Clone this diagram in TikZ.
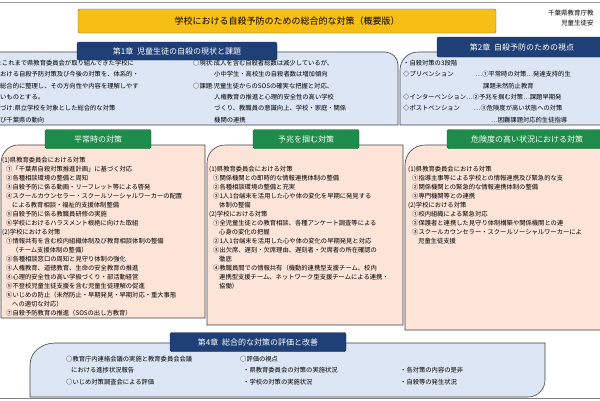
\documentclass[tikz,border=0pt]{standalone}
\usepackage{fontspec}
\setmainfont{Noto Sans CJK JP}
\definecolor{hblue}{HTML}{1F3F77}
\definecolor{lblue}{HTML}{DCE6F4}
\definecolor{pinkc}{HTML}{FCE4D8}
\definecolor{greenc}{HTML}{1E8C4A}
\definecolor{orangec}{HTML}{F7BE16}
\begin{document}
\begin{tikzpicture}[x=1pt,y=-1pt,
  bluehead/.style={fill=hblue,draw=hblue!70!black,text=white,font=\fontsize{8}{9}\selectfont,inner sep=0pt,rounded corners=1.5pt},
  greenhead/.style={fill=greenc,draw=greenc!70!black,text=white,font=\fontsize{8}{9}\selectfont,inner sep=0pt,rounded corners=1.5pt},
  txt/.style={anchor=north west,inner sep=0pt,align=left,font=\fontsize{6.3}{9}\selectfont},
  txtb/.style={anchor=north west,inner sep=0pt,align=left,font=\fontsize{6.3}{11.3}\selectfont},
  panel/.style={draw=black!75,line width=0.6pt}]
\useasboundingbox (0,0) rectangle (600,400);
\clip (0,0) rectangle (600,400);
\fill[white] (0,0) rectangle (600,400);
\draw[black!40] (0,2) -- (600,2);
\draw[black!50] (0,398) -- (600,398);
% title
\node[fill=orangec,draw=black!60,rounded corners=2pt,minimum width=418pt,minimum height=24pt,inner sep=0pt,font=\fontsize{9}{10}\selectfont] (title) at (287,21) {学校における自殺予防のための総合的な対策（概要版）};
\node[anchor=north west,inner sep=0pt,align=right,font=\fontsize{6.5}{10}\selectfont] (org) at (548,10) {千葉県教育庁教\\\hspace*{12pt}児童生徒安};
% chapter 1 panel
\draw[panel,fill=lblue] (-2,52) -- (385,52) to[out=0,in=90] (398,65) -- (398,125) -- (-2,125) -- cycle;
\node[bluehead,minimum width=200pt,minimum height=18pt] (c1) at (177,51) {第1章\ \ 児童生徒の自殺の現状と課題};
\node[txtb] (c1a) at (0,60) {:これまで県教育委員会が取り組んできた学校に\\おける自殺予防対策及び今後の対策を、体系的・\\総合的に整理し、その方向性や内容を理解しやす\\いものとする。\\づけ:県立学校を対象とした総合的な対策\\び千葉県の動向};
\node[txtb] (c1b) at (193,60) {○現状:成人を含む自殺者総数は減少しているが、\\\hspace*{21pt}小中学生・高校生の自殺者数は増加傾向\\○課題:児童生徒からのSOSの確実な把握と対応、\\\hspace*{21pt}人権教育の推進と心理的安全性の高い学校\\\hspace*{21pt}づくり、教職員の意識向上、学校・家庭・関係\\\hspace*{21pt}機関の連携};
% chapter 2 panel
\draw[panel,fill=lblue] (602,52) -- (418,52) to[out=180,in=90] (400,70) -- (400,125) -- (602,125) -- cycle;
\node[bluehead,minimum width=170pt,minimum height=20pt] (c2) at (522,47) {第2章\ \ 自殺予防のための視点};
\node[txtb] (c2a) at (403,60) {・自殺対策の3段階\\◇プリベンション\hspace{22pt}…①平常時の対策…発達支持的生\\\hspace*{80pt}課題未然防止教育\\◇インターベンション…②予兆を掴む対策…課題早期発\\◇ポストベンション\hspace{14pt}…③危険度が高い状態への対策\\\hspace*{88pt}…困難課題対応的生徒指導};
% pink panels
\draw[panel,fill=pinkc] (18,145) -- (205,145) -- (205,318) -- (1,318) -- (1,163) to[out=90,in=180] (18,145);
\draw[panel,fill=pinkc] (225,145) -- (403,145) -- (403,325) -- (207,325) -- (207,163) to[out=90,in=180] (225,145);
\draw[panel,fill=pinkc] (425,145) -- (602,145) -- (602,330) -- (405,330) -- (405,165) to[out=90,in=180] (425,145);
\node[greenhead,minimum width=106pt,minimum height=19pt] (g1) at (98,139) {平常時の対策};
\node[greenhead,minimum width=106pt,minimum height=19pt] (g2) at (306,139) {予兆を掴む対策};
\node[greenhead,minimum width=160pt,minimum height=19pt] (g3) at (527,139) {危険度の高い状況における対策};
\node[txt] (pa) at (2,157) {(1)県教育委員会における対策\\\hspace*{4pt}①「千葉県自殺対策推進計画」に基づく対応\\\hspace*{4pt}②各種相談環境の整備と周知\\\hspace*{4pt}③自殺予防に係る動画・リーフレット等による啓発\\\hspace*{4pt}④スクールカウンセラー・スクールソーシャルワーカーの配置\\\hspace*{10pt}による教育相談・福祉的支援体制整備\\\hspace*{4pt}⑤自殺予防に係る教職員研修の実施\\\hspace*{4pt}⑥学校におけるハラスメント根絶に向けた取組\\(2)学校における対策\\\hspace*{4pt}①情報共有を含む校内組織体制及び教育相談体制の整備\\\hspace*{10pt}（チーム支援体制の整備）\\\hspace*{4pt}②各種相談窓口の周知と見守り体制の強化\\\hspace*{4pt}③人権教育、道徳教育、生命の安全教育の推進\\\hspace*{4pt}④心理的安全性の高い学級づくり・部活動経営\\\hspace*{4pt}⑤不登校児童生徒支援を含む児童生徒理解の促進\\\hspace*{4pt}⑥いじめの防止（未然防止・早期発見・早期対応・重大事態\\\hspace*{10pt}への適切な対応）\\\hspace*{4pt}⑦自殺予防教育の推進（SOSの出し方教育）};
\node[txt] (pb) at (209,166) {(1)県教育委員会における対策\\\hspace*{4pt}①関係機関との即時的な情報連携体制の整備\\\hspace*{4pt}②各種相談環境の整備と充実\\\hspace*{4pt}③1人1台端末を活用した心や体の変化を早期に発見する\\\hspace*{10pt}体制の整備\\(2)学校における対策\\\hspace*{4pt}①全児童生徒との教育相談、各種アンケート調査等による\\\hspace*{10pt}心身の変化の把握\\\hspace*{4pt}②1人1台端末を活用した心や体の変化の早期発見と対応\\\hspace*{4pt}③出欠席、遅刻・欠席理由、遅刻者・欠席者の所在確認の\\\hspace*{10pt}徹底\\\hspace*{4pt}④教職員間での情報共有（機動的連携型支援チーム、校内\\\hspace*{10pt}連携型支援チーム、ネットワーク型支援チームによる連携・\\\hspace*{10pt}協働）};
\node[txt] (pc) at (408,166) {(1)県教育委員会における対策\\\hspace*{4pt}①指導主事等による学校との情報連携及び緊急的な支\\\hspace*{4pt}②関係機関との緊急的な情報連携体制の整備\\\hspace*{4pt}③専門機関等との連携\\(2)学校における対策\\\hspace*{4pt}①校内組織による緊急対応\\\hspace*{4pt}②保護者と連携した見守り体制構築や関係機関との連\\\hspace*{4pt}③スクールカウンセラー・スクールソーシャルワーカーによ\\\hspace*{10pt}児童生徒支援};
% chapter 4
\draw[panel,fill=lblue] (55,343) -- (545,343) -- (545,380) to[out=-90,in=0] (528,397) -- (30,397) -- (30,365) to[out=90,in=180] (55,343);
\node[bluehead,minimum width=176pt,minimum height=19pt] (c4) at (258,342) {第4章\ \ 総合的な対策の評価と改善};
\node[txtb] (c4a) at (66,356) {○教育庁内連絡会議の実施と教育委員会会議\\\hspace*{5pt}における進捗状況報告\\○いじめ対策調査会による評価};
\node[txtb] (c4b) at (240,356) {○評価の視点\\\hspace*{3pt}・県教育委員会の対策の実施状況\\\hspace*{3pt}・学校の対策の実施状況};
\node[txtb] (c4c) at (400,367.3) {・各対策の内容の是非\\・自殺等の発生状況};
\end{tikzpicture}
\end{document}
